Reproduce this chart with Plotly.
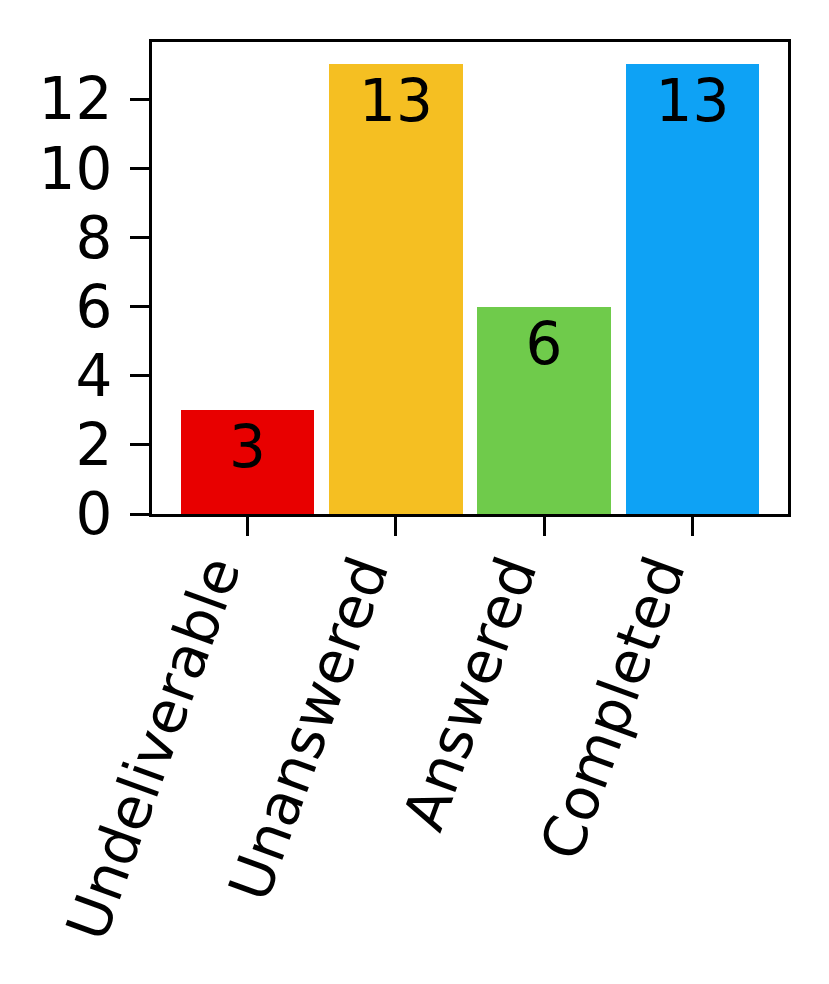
import plotly.graph_objects as go

categories = ["Undeliverable", "Unanswered", "Answered", "Completed"]
values = [3, 13, 6, 13]
colors = ["#E80000", "#F5BF22", "#6FCB4B", "#0EA2F5"]
y_ticks = [0, 2, 4, 6, 8, 10, 12]

FONT = "DejaVu Sans"
FS = 58

fig = go.Figure(go.Bar(
    x=list(range(len(categories))),
    y=values,
    width=0.9,
    marker=dict(color=colors, line=dict(width=0)),
    text=[str(v) for v in values],
    textposition="inside",
    insidetextanchor="end",
    constraintext="none",
    textfont=dict(family=FONT, size=FS, color="black"),
    textangle=0,
))

fig.update_layout(
    width=829, height=984,
    margin=dict(l=144, r=49, t=34, b=478),
    paper_bgcolor="white", plot_bgcolor="white",
    font=dict(family=FONT, size=FS, color="black"),
    showlegend=False,
    bargap=0,
)
fig.update_xaxes(
    range=[-0.645, 3.645],
    tickmode="array", tickvals=list(range(len(categories))), ticktext=categories,
    tickangle=-70,
    ticklabelshift=-34,
    ticklabelstandoff=-20,
    showline=True, linecolor="black", linewidth=3, mirror=True,
    ticks="outside", ticklen=19, tickwidth=3, tickcolor="black",
    showgrid=False, zeroline=False,
    tickfont=dict(family=FONT, size=FS, color="black"),
)
fig.update_yaxes(
    range=[0, 13.65],
    tickmode="array", tickvals=y_ticks,
    ticklabelstandoff=6,
    showline=True, linecolor="black", linewidth=3, mirror=True,
    ticks="outside", ticklen=19, tickwidth=3, tickcolor="black",
    showgrid=False, zeroline=False,
    tickfont=dict(family=FONT, size=FS, color="black"),
)

fig.write_html("out.html")
